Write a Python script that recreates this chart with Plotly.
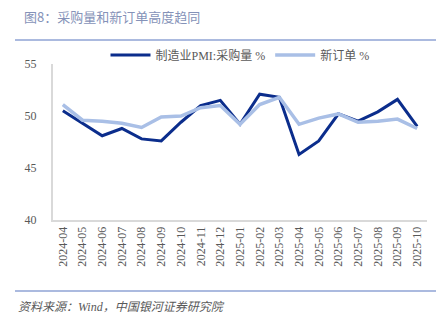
import plotly.graph_objects as go

months = ["2024-04", "2024-05", "2024-06", "2024-07", "2024-08", "2024-09", "2024-10",
          "2024-11", "2024-12", "2025-01", "2025-02", "2025-03", "2025-04", "2025-05",
          "2025-06", "2025-07", "2025-08", "2025-09", "2025-10"]
purchase = [50.5, 49.3, 48.1, 48.8, 47.8, 47.6, 49.4, 51.0, 51.5, 49.2, 52.1, 51.8,
            46.3, 47.6, 50.2, 49.5, 50.4, 51.6, 49.0]
new_orders = [51.1, 49.6, 49.5, 49.3, 48.9, 49.9, 50.0, 50.8, 51.0, 49.2, 51.1, 51.8,
              49.2, 49.8, 50.2, 49.4, 49.5, 49.7, 48.8]
y_ticks = [40, 45, 50, 55]

serif = "Liberation Serif, Noto Sans CJK SC, serif"
PH = 156.0
PW = 374.0

fig = go.Figure()
fig.add_trace(go.Scatter(x=months, y=purchase, mode="lines", name="制造业PMI:采购量 %",
                         line=dict(color="#0b2d8c", width=3)))
fig.add_trace(go.Scatter(x=months, y=new_orders, mode="lines", name="新订单 %",
                         line=dict(color="#a9bfe6", width=3.5)))

fig.update_layout(
    width=445, height=326,
    margin=dict(l=53, r=18, t=64, b=106),
    paper_bgcolor="white", plot_bgcolor="white",
    showlegend=True,
    legend=dict(orientation="h", x=0.5, xanchor="center", y=1 + (64 - 55) / PH, yanchor="middle",
                font=dict(family=serif, size=12, color="#595959"),
                itemwidth=40, traceorder="normal"),
    xaxis=dict(type="category", range=[-0.5, len(months) - 0.5], tickangle=-90,
               showgrid=False, showline=True,
               linecolor="#d9d9d9", linewidth=2, ticks="",
               tickfont=dict(family=serif, size=12, color="#595959")),
    yaxis=dict(range=[40, 55], tickvals=y_ticks, showgrid=False, showline=True,
               linecolor="#d9d9d9", linewidth=2, ticks="", zeroline=False,
               tickfont=dict(family=serif, size=12, color="#595959"), ticklabelstandoff=12),
    shapes=[
        dict(type="line", xref="paper", yref="paper", x0=-(53 - 15) / PW, x1=1 + (436 - 427) / PW,
             y0=1 + (64 - 40) / PH, y1=1 + (64 - 40) / PH,
             line=dict(color="#8fa3d4", width=1.5)),
        dict(type="line", xref="paper", yref="paper", x0=-(53 - 15) / PW, x1=1 + (436 - 427) / PW,
             y0=-(291 - 220) / PH, y1=-(291 - 220) / PH,
             line=dict(color="#8fa3d4", width=1.5)),
    ],
    annotations=[
        dict(text="图8：采购量和新订单高度趋同", xref="paper", yref="paper",
             x=-(53 - 22) / PW, y=1 + (64 - 17) / PH, xanchor="left", yanchor="middle",
             showarrow=False, font=dict(family="Noto Sans CJK SC", size=13, color="#8592b8")),
        dict(text="<i>资料来源：Wind，中国银河证券研究院</i>", xref="paper", yref="paper",
             x=-(53 - 16) / PW, y=-(307 - 220) / PH, xanchor="left", yanchor="middle",
             showarrow=False, font=dict(family=serif, size=12, color="#595959")),
    ],
)

fig.write_html("out.html")
